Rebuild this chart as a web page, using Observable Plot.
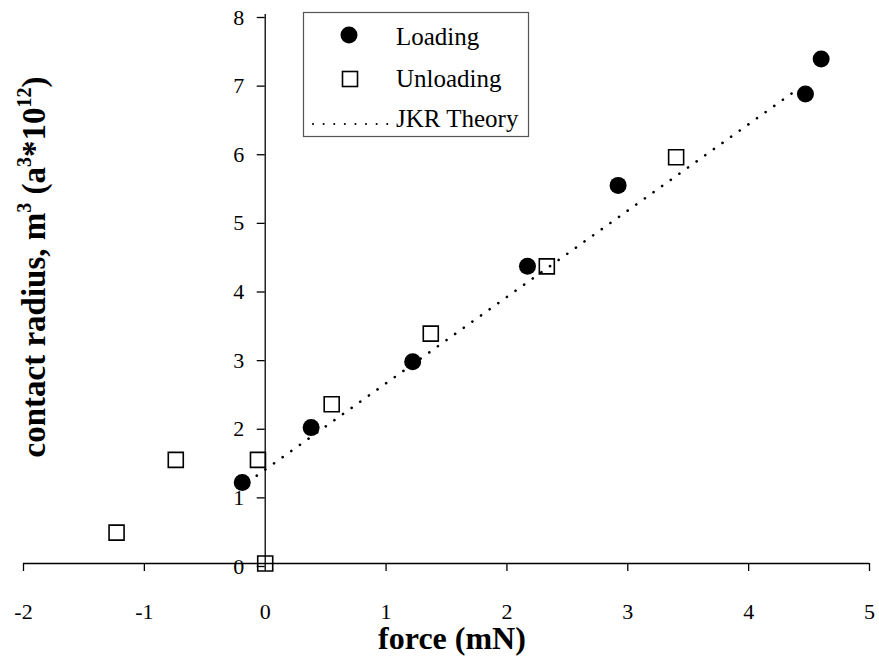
<!DOCTYPE html>
<html>
<head>
<meta charset="utf-8">
<script src="https://cdn.jsdelivr.net/npm/d3@7"></script>
<script src="https://cdn.jsdelivr.net/npm/@observablehq/plot@0.6"></script>
<style>
  html, body { margin: 0; padding: 0; background: #fff; }
  #chart svg { display: block; }
  #chart svg text { font-family: "Liberation Serif", "Times New Roman", serif; }
  #chart svg g[aria-label$="tick label"] { font-size: 22px; }
</style>
</head>
<body>
<div id="chart"></div>
<script>
// ---- data ----
const loadingX = [-0.19, 0.38, 1.22, 2.17, 2.92, 4.47, 4.60];
const loadingY = [1.18, 1.98, 2.94, 4.33, 5.51, 6.84, 7.35];
const unloadingX = [-1.23, -0.74, -0.06, 0.00, 0.55, 1.37, 2.33, 3.40];
const unloadingY = [0.45, 1.51, 1.51, 0.00, 2.32, 3.35, 4.33, 5.92];
const jkrX = [-0.07, 4.42];
const jkrY = [1.28, 6.93];
const xTicks = [-2, -1, 0, 1, 2, 3, 4, 5];
const yTicks = [0, 1, 2, 3, 4, 5, 6, 7, 8];
const legendLabels = ["Loading", "Unloading", "JKR Theory"];
const xTitle = "force (mN)";

const loading = loadingX.map((x, i) => ({x, y: loadingY[i]}));
const unloading = unloadingX.map((x, i) => ({x, y: unloadingY[i]}));
const jkr = jkrX.map((x, i) => ({x, y: jkrY[i]}));

const serif = "Liberation Serif, Times New Roman, serif";
const fmt = d => String(d);

const plot = Plot.plot({
  width: 879,
  height: 657,
  marginLeft: 23,
  marginRight: 10,
  marginTop: 14,
  marginBottom: 94,
  style: {fontFamily: serif, fontSize: "22px", color: "#000", background: "#fff"},
  x: {domain: [-2, 5]},
  y: {domain: [0, 8]},
  marks: [
    Plot.ruleY([0], {stroke: "#000", strokeWidth: 1.3}),
    Plot.ruleX([0], {stroke: "#000", strokeWidth: 1.3}),
    Plot.axisX(xTicks, {tickSize: 8, tickPadding: 32, label: null, tickFormat: fmt, fontSize: 22, stroke: "#000", strokeWidth: 1.3}),
    Plot.axisY(yTicks, {x: 0, tickSize: 8, tickPadding: 13, label: null, tickFormat: fmt, fontSize: 22, dy: 3, stroke: "#000", strokeWidth: 1.3}),
    Plot.line(jkr, {x: "x", y: "y", stroke: "#000", strokeWidth: 2.6, strokeDasharray: "0.1,10.5", strokeLinecap: "round"}),
    Plot.dot(loading, {x: "x", y: "y", r: 8.5, fill: "#000", stroke: "none"}),
    Plot.dot(unloading, {x: "x", y: "y", r: 8.46, symbol: "square", fill: "none", stroke: "#000", strokeWidth: 1.6})
  ]
});

const svg = d3.select(plot);

// axis titles
svg.append("text")
  .attr("x", 452).attr("y", 649)
  .attr("text-anchor", "middle")
  .attr("font-family", serif).style("font-size", "32px").style("font-weight", "bold")
  .attr("fill", "#000")
  .text(xTitle);

const yt = svg.append("text")
  .attr("transform", "translate(45,267) rotate(-90)")
  .attr("text-anchor", "middle")
  .attr("font-family", serif).style("font-size", "33px").style("font-weight", "bold")
  .attr("fill", "#000");
const yParts = [["contact radius, m", false], ["3", true], [" (a", false], ["3", true], ["*10", false], ["12", true], [")", false]];
yParts.forEach(([t, sup]) => {
  const ts = yt.append("tspan").text(t);
  if (sup) ts.style("font-size", "20px").style("baseline-shift", "14px");
});

// legend
const lg = svg.append("g").attr("font-family", serif).style("font-size", "25px").attr("text-anchor", "start");
lg.append("rect").attr("x", 303.5).attr("y", 12.5).attr("width", 225).attr("height", 124)
  .attr("fill", "#fff").attr("stroke", "#555").attr("stroke-width", 1.2);
lg.append("circle").attr("cx", 349).attr("cy", 35).attr("r", 8.5).attr("fill", "#000");
lg.append("rect").attr("x", 342.5).attr("y", 71.5).attr("width", 15).attr("height", 15)
  .attr("fill", "none").attr("stroke", "#000").attr("stroke-width", 1.6);
lg.append("line").attr("x1", 313).attr("x2", 390).attr("y1", 124).attr("y2", 124)
  .attr("stroke", "#000").attr("stroke-width", 2).attr("stroke-dasharray", "0.1,10.5").attr("stroke-linecap", "round");
const baselines = [45, 87, 127];
legendLabels.forEach((t, i) => {
  lg.append("text").attr("x", 396).attr("y", baselines[i]).attr("text-anchor", "start").attr("fill", "#000").text(t);
});

document.getElementById("chart").appendChild(plot);
</script>
</body>
</html>
